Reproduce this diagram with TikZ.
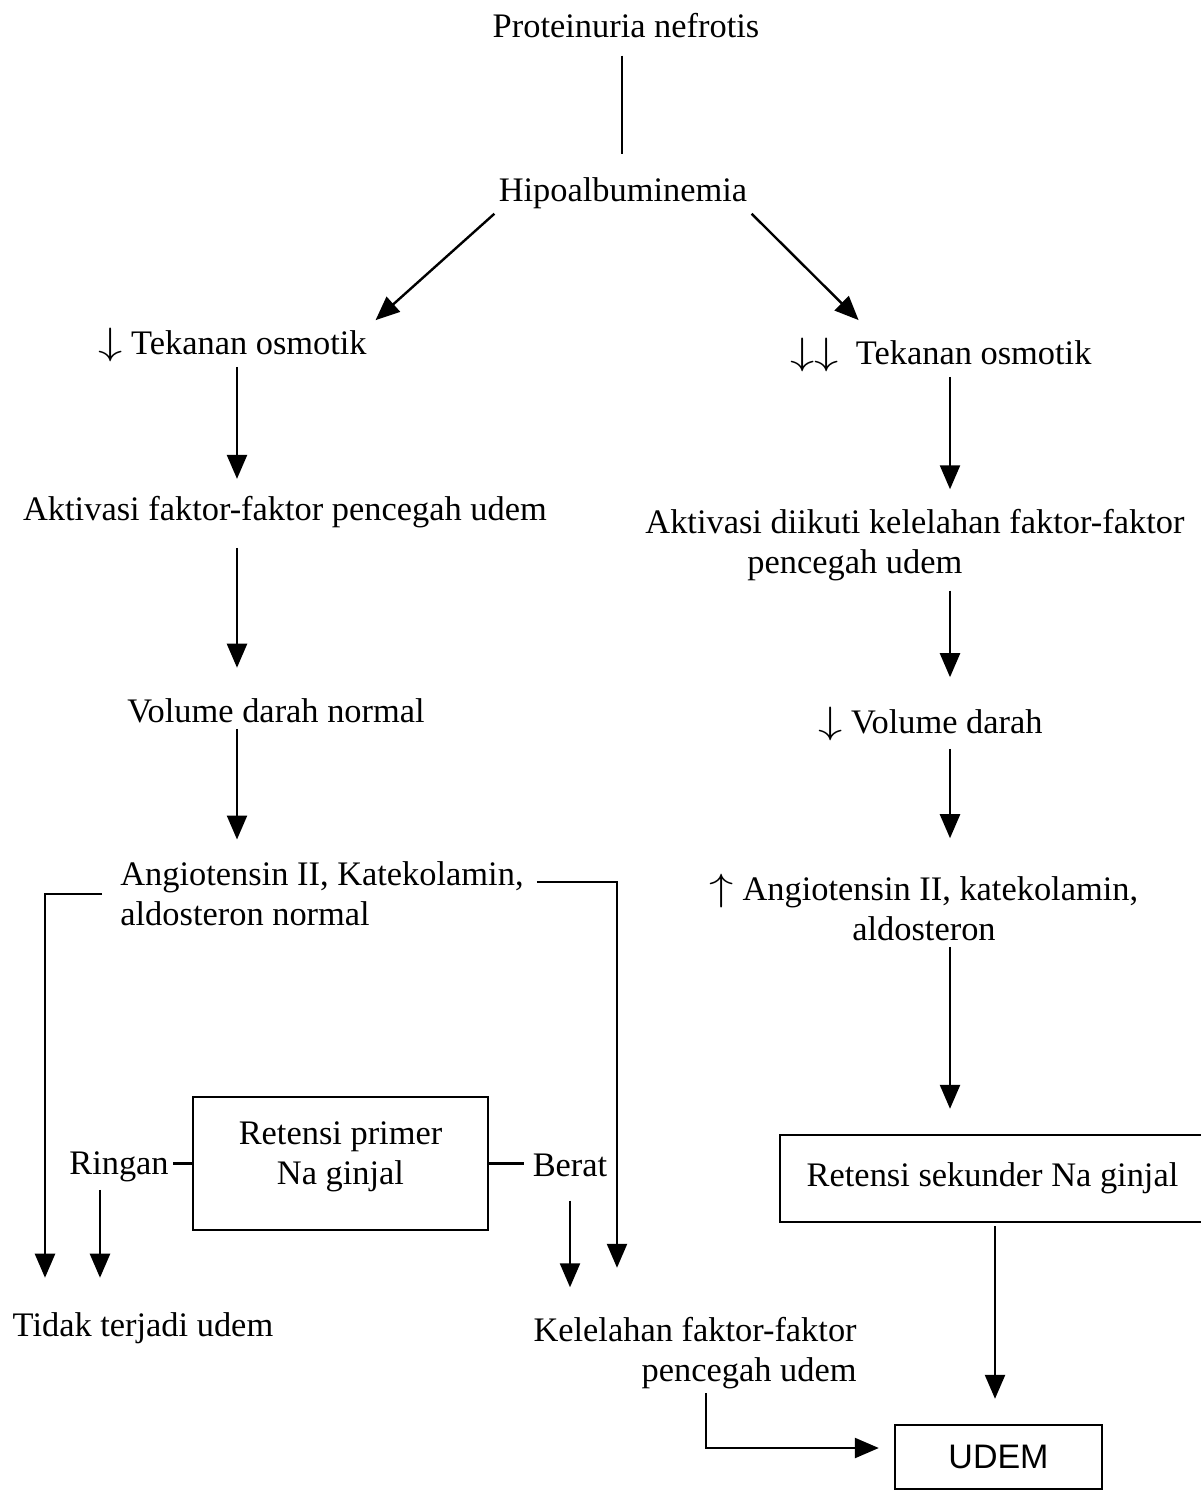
\documentclass[tikz,border=0pt]{standalone}
\usepackage{fontspec}
\setmainfont{Liberation Serif}
\newfontfamily\udemfont{Liberation Sans}
\usetikzlibrary{arrows.meta, positioning, calc}
\newcommand{\dnarr}{\scalebox{1.4}[1.1]{$\downarrow$}}
\newcommand{\uparr}{\scalebox{1.4}[1.1]{$\uparrow$}}

\tikzset{
  txt/.style={inner sep=2pt, font=\fontsize{17.2}{20}\selectfont},
  box/.style={draw, line width=1.2pt, inner sep=2pt, align=center, font=\fontsize{17.2}{20}\selectfont},
  ln/.style={line width=1.2pt},
  arr/.style={line width=1.2pt, -{Triangle[width=10pt,length=12pt]}},
}

\begin{document}
\begin{tikzpicture}[x=0.5pt, y=-0.5pt]
        \useasboundingbox (0,0) rectangle (1200,1491);
        % columns for the connectors
        \coordinate (colM) at (622,0);
        \coordinate (colL) at (237,0);
        \coordinate (colLL) at (45,0);
        \coordinate (colLR) at (617,0);
        \coordinate (colRg) at (100,0);
        \coordinate (colR) at (950,0);
        \coordinate (colU) at (995,0);
        \coordinate (colK) at (706,0);
        % top
        \node[txt, anchor=base] (prot) at (626,38) {Proteinuria nefrotis};
        \node[txt, anchor=base] (hipo) at (623,202) {Hipoalbuminemia};
        % left branch
        \node[txt, anchor=base west] (tekL) at (94,355) {\dnarr\hspace{0.25em}Tekanan osmotik};
        \node[txt, anchor=base] (aktL) at (285,521) {Aktivasi faktor-faktor pencegah udem};
        \node[txt, anchor=base] (volL) at (276,722) {Volume darah normal};
        \node[txt, align=left, anchor=west] (angL) at (116,894) {Angiotensin II, Katekolamin,\\aldosteron normal};
        \node[box, minimum width=147.5pt, minimum height=66.5pt] (retP) at (340.5,1163.5) {Retensi primer\\Na ginjal\\[-10pt]\mbox{}};
        \node[txt, anchor=base] (ringan) at (119,1174) {Ringan};
        \node[txt, anchor=base] (berat) at (570,1176) {Berat};
        \node[txt, anchor=base] (tidak) at (143,1336) {Tidak terjadi udem};
        \node[txt, align=right, anchor=east] (kel) at (861,1353) {Kelelahan faktor-faktor\\pencegah udem};
        % right branch
        \node[txt, anchor=base west] (tekR) at (786,365) {\dnarr\dnarr\hspace{0.5em}Tekanan osmotik};
        \node[txt, align=left, anchor=west] (aktR) at (641,545) {Aktivasi diikuti kelelahan faktor-faktor\\\hspace*{51pt}pencegah udem};
        \node[txt, anchor=base west] (volR) at (814,733) {\dnarr\hspace{0.25em}Volume darah};
        \node[txt, align=center] (angR) at (924,907) {\uparr\hspace{0.25em}Angiotensin II, katekolamin,\\aldosteron};
        \node[box, minimum width=212.5pt, minimum height=43.5pt] (retS) at (992.5,1178.5) {Retensi sekunder Na ginjal};
        \node[box, minimum width=103.5pt, minimum height=32pt, font=\udemfont\fontsize{17}{20}\selectfont] (udem) at (998.5,1457) {UDEM};
        % connectors at the top
        \draw[ln, shorten <=6.5pt, shorten >=9.75pt] (prot.south -| colM) -- (hipo.north -| colM);
        \draw[arr, shorten >=3pt] (hipo.south west) -- (tekL.north east);
        \draw[arr, shorten >=10pt] (hipo.south east) -- ($(tekR.north west)!0.28!(tekR.north east)$);
        % left column
        \draw[arr, shorten >=6.75pt] (tekL.south -| colL) -- (aktL.north -| colL);
        \draw[arr, shorten <=7.5pt, shorten >=13pt] (aktL.south -| colL) -- (volL.north -| colL);
        \draw[arr, shorten <=1pt, shorten >=9pt] (volL.south -| colL) -- (angL.north -| colL);
        \draw[arr, shorten <=7pt, shorten >=15pt] (angL.west) -| (tidak.north -| colLL);
        \draw[arr, shorten <=4.5pt, shorten >=22.5pt] ([yshift=6pt]angL.east) -| (kel.north -| colLR);
        \draw[ln] (retP.west) -- (retP.west -| ringan.east);
        \draw[ln, shorten >=2pt] (retP.east) -- (retP.east -| berat.west);
        \draw[arr, shorten <=2pt, shorten >=15pt] (ringan.south -| colRg) -- (tidak.north -| colRg);
        \draw[arr, shorten <=10pt, shorten >=12.75pt] (berat.south) -- (kel.north -| berat.south);
        % right column
        \draw[arr, shorten >=7.75pt] (tekR.south -| colR) -- (aktR.north -| colR);
        \draw[arr, shorten <=2.75pt, shorten >=12.5pt] (aktR.south -| colR) -- (volR.north -| colR);
        \draw[arr, shorten <=2pt, shorten >=15.5pt] (volR.south -| colR) -- (angR.north -| colR);
        \draw[arr, shorten <=1pt, shorten >=12.5pt] (angR.south -| colR) -- (retS.north -| colR);
        \draw[arr, shorten <=1.5pt, shorten >=12.5pt] (retS.south -| colU) -- (udem.north -| colU);
        \draw[arr, shorten >=7.5pt] (kel.south -| colK) |- ([yshift=4.5pt]udem.west);
      \end{tikzpicture}
\end{document}
